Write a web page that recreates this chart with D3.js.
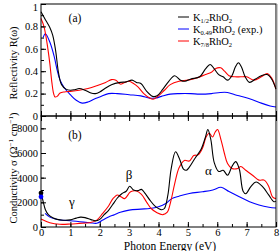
<!DOCTYPE html>
<html><head><meta charset="utf-8">
<script src="https://cdn.jsdelivr.net/npm/d3@7/dist/d3.min.js"></script>
<style>
body{margin:0;background:#fff;}
svg{display:block;font-family:"Liberation Serif","Times New Roman",serif;}
</style></head>
<body>
<svg id="c" width="280" height="251"></svg>
<script>
// ---- data ----
const xTicks = [0,1,2,3,4,5,6,7,8];
const rTicks = [0,0.2,0.4,0.6,0.8,1];
const sTicks = [0,2000,4000,6000,8000];

// Reflectivity, K1/2RhO2 (black)
const rBlackE = [0,0.15,0.3,0.4,0.5,0.6,0.7,0.85,1.0,1.15,1.3,1.5,1.7,1.85,2.0,2.2,2.4,2.7,2.9,3.1,3.25,3.4,3.6,3.8,3.95,4.15,4.35,4.55,4.75,4.9,5.1,5.4,5.6,5.76,5.9,6.05,6.2,6.35,6.5,6.62,6.72,6.82,6.95,7.1,7.3,7.5,7.7,7.85,8.0];
const rBlack  = [0.93,0.86,0.79,0.72,0.58,0.38,0.28,0.24,0.23,0.235,0.245,0.23,0.205,0.2,0.215,0.25,0.28,0.30,0.305,0.32,0.30,0.29,0.22,0.175,0.18,0.24,0.31,0.36,0.32,0.31,0.33,0.35,0.42,0.46,0.42,0.37,0.35,0.32,0.36,0.44,0.475,0.44,0.35,0.30,0.33,0.36,0.37,0.33,0.24];
// Reflectivity, K0.49RhO2 exp. (blue)
const rBlueE = [0.07,0.15,0.3,0.45,0.55,0.65,0.8,1.0,1.2,1.4,1.6,1.8,2.0,2.3,2.6,3.0,3.4,3.7,3.9,4.1,4.4,4.7,5.1,5.4,5.8,6.1,6.35,6.6,6.9,7.2,7.5,7.8,8.0];
const rBlue  = [0.70,0.735,0.66,0.53,0.41,0.32,0.25,0.19,0.14,0.115,0.125,0.15,0.17,0.2,0.2,0.19,0.18,0.16,0.16,0.175,0.195,0.2,0.2,0.195,0.2,0.21,0.21,0.19,0.17,0.145,0.115,0.09,0.08];
// Reflectivity, K7/8RhO2 (red)
const rRedE = [0,0.1,0.2,0.3,0.37,0.43,0.48,0.55,0.65,0.8,1.0,1.3,1.6,1.9,2.2,2.4,2.55,2.7,2.85,3.0,3.15,3.3,3.5,3.7,3.82,4.0,4.2,4.4,4.7,5.0,5.3,5.6,5.8,5.95,6.12,6.25,6.4,6.6,6.8,7.0,7.25,7.5,7.7,7.85,8.0];
const rRed  = [0.87,0.80,0.66,0.47,0.30,0.2,0.17,0.175,0.205,0.215,0.22,0.23,0.245,0.27,0.30,0.325,0.32,0.285,0.30,0.31,0.29,0.26,0.2,0.16,0.15,0.18,0.23,0.28,0.31,0.32,0.34,0.37,0.39,0.425,0.43,0.40,0.36,0.35,0.35,0.35,0.32,0.35,0.38,0.34,0.24];

// Conductivity, K1/2RhO2 (black)
const sBlackE = [0.02,0.08,0.15,0.25,0.4,0.55,0.75,1.0,1.2,1.35,1.5,1.7,1.85,2.0,2.15,2.3,2.45,2.6,2.75,2.9,3.02,3.15,3.3,3.42,3.55,3.7,3.9,4.1,4.2,4.32,4.43,4.58,4.72,4.85,4.95,5.05,5.25,5.45,5.6,5.68,5.78,5.9,6.05,6.2,6.35,6.5,6.63,6.75,6.88,6.97,7.15,7.32,7.55,7.75,7.93,8.0];
const sBlack  = [2650,2000,1400,1000,750,620,550,580,720,800,760,600,500,620,1000,1350,1850,2350,2700,2900,3300,3000,2950,3050,2700,2200,1650,1400,1500,2600,4700,6100,5500,4700,4600,4850,5600,6300,7300,7900,7100,5200,4500,4600,4200,4900,5300,4700,2900,2700,3300,3650,3250,2600,2050,2100];
// Conductivity, K0.49RhO2 exp. (blue)
const sBlueE = [0.14,0.3,0.64,1.0,1.32,1.66,1.9,2.1,2.3,2.5,2.7,3.0,3.4,3.7,4.0,4.25,4.45,4.7,5.05,5.5,5.85,6.13,6.4,6.75,7.1,7.42,7.76,8.0];
const sBlue  = [1100,800,570,510,430,350,300,560,820,1000,1200,1370,1450,1500,1640,1900,2300,2500,2720,2860,3000,3220,2870,2450,2050,1780,1600,1540];
// Conductivity, K7/8RhO2 (red)
const sRedE = [0,0.3,0.64,1.0,1.3,1.65,1.9,2.1,2.3,2.45,2.6,2.72,2.85,3.05,3.25,3.42,3.6,3.75,3.95,4.15,4.3,4.42,4.55,4.7,4.88,5.05,5.2,5.35,5.5,5.62,5.73,5.84,5.93,6.01,6.13,6.24,6.35,6.5,6.7,6.8,6.97,7.2,7.42,7.6,7.76,7.88,8.0];
const sRed  = [650,350,220,240,290,340,560,1100,1700,2300,2600,2450,2300,2850,2920,2650,2000,1500,1150,1000,1200,2100,3500,4800,5400,5350,5800,5850,6400,7300,7600,7300,7700,7900,7050,6000,5150,4750,4750,4900,4600,4200,3800,3800,3250,2450,2300];

// dc points at zero energy
const dcE = [0,0];
const dcS = [2750,2450];
const dcColors = ["#000","#0000ff"];

const legendLabels = [["K","1/2","RhO","2",""],["K","0.49","RhO","2","  (exp.)"],["K","7/8","RhO","2",""]];
const legendColors = ["#000","#0000ff","#ff0000"];
const letters = [["γ",1.05,1700],["β",3.0,3900],["α",5.7,4200]];

// ---- drawing ----
const svg = d3.select("#c");
const x = d3.scaleLinear([0,8],[41,276]);
const yR = d3.scaleLinear([0,1],[116,4]);
const yS = d3.scaleLinear([0,9000],[227,116]);

const zip = (a,b)=>a.map((v,i)=>[v,b[i]]);
const lineR = d3.line().x(d=>x(d[0])).y(d=>yR(d[1])).curve(d3.curveCatmullRom.alpha(0.5));
const lineS = d3.line().x(d=>x(d[0])).y(d=>yS(d[1])).curve(d3.curveCatmullRom.alpha(0.5));

function path(g, gen, data, color){
  g.append("path").attr("d", gen(data)).attr("fill","none").attr("stroke",color).attr("stroke-width",1.1);
}
// top panel curves
path(svg, lineR, zip(rBlueE,rBlue), "#0000ff");
path(svg, lineR, zip(rRedE,rRed), "#ff0000");
path(svg, lineR, zip(rBlackE,rBlack), "#000");
// bottom panel curves
path(svg, lineS, zip(sBlueE,sBlue), "#0000ff");
path(svg, lineS, zip(sRedE,sRed), "#ff0000");
path(svg, lineS, zip(sBlackE,sBlack), "#000");

// frames
const frame = (y0,y1)=>svg.append("rect").attr("x",x(0)).attr("y",y1).attr("width",x(8)-x(0)).attr("height",y0-y1)
  .attr("fill","none").attr("stroke","#000").attr("stroke-width",1);
frame(yR(0),yR(1));
frame(yS(0),yS(9000));
svg.append("line").attr("x1",x(8)+1).attr("x2",x(8)+1).attr("y1",yR(1)).attr("y2",yS(0)).attr("stroke","#999").attr("stroke-width",1);

svg.selectAll("circle.dc").data(dcS).join("circle").attr("class","dc")
  .attr("cx",(d,i)=>x(dcE[i])).attr("cy",d=>yS(d)).attr("r",2.4).attr("fill",(d,i)=>dcColors[i]);

function styleAxis(g){ g.select(".domain").remove(); g.selectAll("line").attr("stroke","#000");
  g.selectAll("text").attr("font-family","Liberation Serif").attr("font-size",10.5).attr("fill","#000"); }

const minorX = d3.range(0,8.01,0.5);
// top panel bottom axis (ticks up), no labels
svg.append("g").attr("transform",`translate(0,${yR(0)})`).call(d3.axisBottom(x).tickValues(xTicks).tickSize(-5).tickFormat("")).call(styleAxis);
svg.append("g").attr("transform",`translate(0,${yR(0)})`).call(d3.axisBottom(x).tickValues(minorX).tickSize(-3).tickFormat("")).call(styleAxis);
// bottom panel top axis (ticks down)
svg.append("g").attr("transform",`translate(0,${yS(9000)})`).call(d3.axisTop(x).tickValues(xTicks).tickSize(-5).tickFormat("")).call(styleAxis);
svg.append("g").attr("transform",`translate(0,${yS(9000)})`).call(d3.axisTop(x).tickValues(minorX).tickSize(-3).tickFormat("")).call(styleAxis);
// bottom panel bottom axis
svg.append("g").attr("transform",`translate(0,${yS(0)})`).call(d3.axisBottom(x).tickValues(minorX).tickSize(-3).tickFormat("")).call(styleAxis);
svg.append("g").attr("transform",`translate(0,${yS(0)})`).call(d3.axisBottom(x).tickValues(xTicks).tickSize(-5).tickPadding(2).tickFormat(d3.format("d"))).call(styleAxis);
// left axes
svg.append("g").attr("transform",`translate(${x(0)},0)`).call(d3.axisLeft(yR).tickValues(d3.range(0,1.001,0.1)).tickSize(-3).tickFormat("")).call(styleAxis);
svg.append("g").attr("transform",`translate(${x(0)},0)`).call(d3.axisLeft(yR).tickValues(rTicks).tickSize(-5).tickPadding(3)
  .tickFormat(d=>d===0?"0":d===1?"1":d.toFixed(1))).call(styleAxis)
  .selectAll("text").filter(d=>d===1).attr("dy","0.6em");
svg.append("g").attr("transform",`translate(${x(0)},0)`).call(d3.axisLeft(yS).tickValues(d3.range(0,9001,1000)).tickSize(-3).tickFormat("")).call(styleAxis);
svg.append("g").attr("transform",`translate(${x(0)},0)`).call(d3.axisLeft(yS).tickValues(sTicks).tickSize(-5).tickPadding(3)
  .tickFormat(d3.format("d"))).call(styleAxis);

// titles
const txt = (xx,yy,s,size,anchor)=>svg.append("text").attr("x",xx).attr("y",yy).attr("font-size",size)
  .attr("text-anchor",anchor||"middle").attr("fill","#000").text(s);
txt(170,250,"Photon Energy (eV)",11.5);
svg.append("text").attr("transform","translate(17,63) rotate(-90)").attr("text-anchor","middle").attr("font-size",10.5).text("Reflectivity R(ω)");
const ct = svg.append("text").attr("transform","translate(17,168) rotate(-90)").attr("text-anchor","middle").attr("font-size",10.5);
ct.append("tspan").text("Conductivity σ (Ω");
ct.append("tspan").attr("font-size",7).attr("dy",-4).text("−1");
ct.append("tspan").attr("dy",4).text(" cm");
ct.append("tspan").attr("font-size",7).attr("dy",-4).text("−1");
ct.append("tspan").attr("dy",4).text(")");

txt(75,22,"(a)",11.5);
txt(75,139,"(b)",11.5);
letters.forEach(l=>txt(x(l[1]),yS(l[2]),l[0],13));

// legend
const lg = svg.append("g");
legendLabels.forEach((lab,i)=>{
  const yy = 17 + i*12;
  lg.append("line").attr("x1",178).attr("x2",189).attr("y1",yy).attr("y2",yy).attr("stroke",legendColors[i]).attr("stroke-width",1);
  const t = lg.append("text").attr("x",193).attr("y",yy+4).attr("font-size",10.5);
  t.append("tspan").text(lab[0]);
  t.append("tspan").attr("font-size",6.5).attr("dy",2).text(lab[1]);
  t.append("tspan").attr("dy",-2).text(lab[2]);
  t.append("tspan").attr("font-size",6.5).attr("dy",2).text(lab[3]);
  if(lab[4]) t.append("tspan").attr("dy",-2).text("\u00a0(exp.)");
});
</script>
</body></html>
